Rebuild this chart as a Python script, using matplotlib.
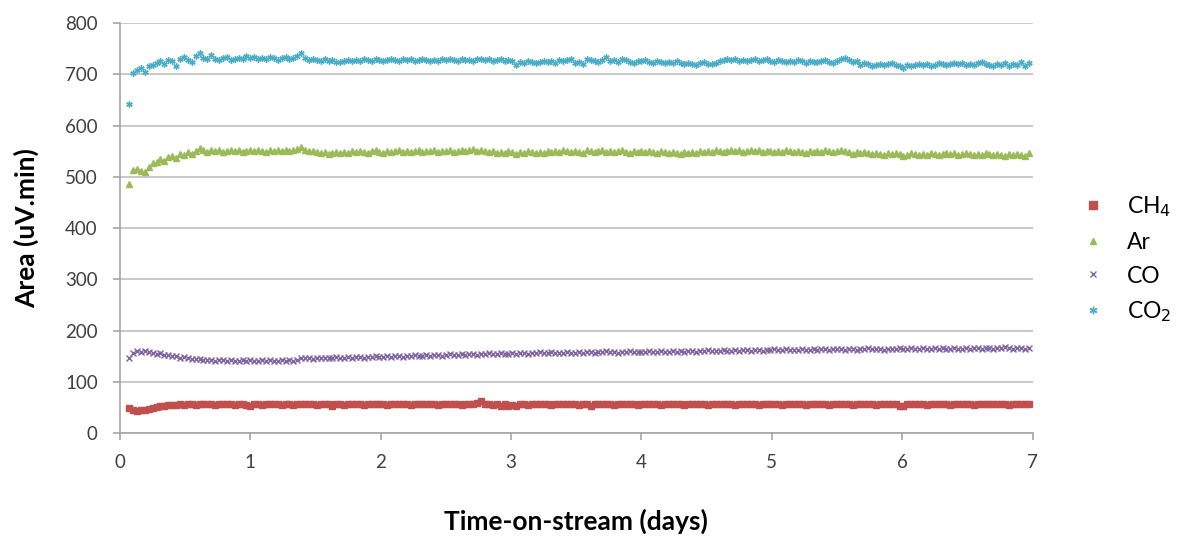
import numpy as np
import matplotlib
matplotlib.use("Agg")
import matplotlib.pyplot as plt

# valores (una muestra cada 0.03 dias desde t = 0.07)
ch4 = [48, 46, 44, 45, 46, 47, 49, 51, 52, 53, 54,
       55, 55, 56, 55, 56, 56, 55, 56, 56, 57,
       56, 55, 56, 56, 57, 56, 55, 56, 56, 55,
       53, 56, 56, 55, 56, 56, 57, 56, 55, 56,
       56, 55, 56, 56, 56, 57, 56, 55, 56, 56,
       56, 53, 56, 56, 55, 56, 57, 56, 56, 55,
       56, 56, 57, 56, 56, 55, 56, 56, 57, 56,
       56, 55, 56, 56, 56, 57, 56, 56, 55, 56,
       56, 57, 56, 56, 55, 56, 56, 57, 58, 62,
       57, 56, 54, 56, 52, 56, 53, 55, 52, 56,
       56, 55, 56, 56, 57, 56, 56, 55, 56, 56,
       56, 57, 56, 56, 55, 56, 56, 53, 56, 56,
       57, 56, 56, 55, 56, 56, 57, 56, 56, 55,
       56, 56, 57, 56, 56, 55, 56, 56, 57, 56,
       56, 55, 56, 56, 57, 56, 56, 55, 56, 56,
       56, 57, 56, 56, 55, 56, 56, 57, 56, 56,
       55, 56, 56, 57, 56, 56, 55, 56, 56, 57,
       56, 56, 55, 56, 56, 57, 56, 56, 55, 56,
       56, 57, 56, 56, 55, 56, 56, 57, 56, 56,
       55, 56, 56, 57, 56, 56, 53, 52, 56, 56,
       57, 56, 56, 55, 56, 56, 57, 56, 56, 55,
       56, 56, 57, 56, 56, 55, 56, 56, 57, 56,
       56, 57, 56, 56, 55, 56, 56, 57, 56, 57]

ar = [487,
      513, 516, 512, 510, 520, 527, 530, 535, 531, 538,
      540, 536, 545, 543, 548, 545, 551, 556, 552, 549,
      553, 550, 552, 548, 551, 553, 550, 552, 549, 551,
      552, 550, 553, 551, 549, 552, 550, 553, 551, 552,
      550, 553, 555, 558, 553, 550, 551, 548, 546, 549,
      545, 547, 548, 546, 549, 547, 550, 548, 551, 549,
      547, 550, 552, 549, 547, 551, 548, 550, 552, 549,
      551, 548, 550, 552, 549, 551, 550, 553, 549, 551,
      550, 552, 549, 551, 553, 550, 552, 554, 551, 553,
      550, 548, 551, 547, 549, 546, 550, 548, 545, 549,
      547, 550, 548, 546, 549, 547, 550, 548, 551, 549,
      552, 550, 548, 551, 549, 547, 552, 550, 548, 551,
      553, 549, 551, 548, 550, 552, 549, 547, 551, 549,
      550, 548, 551, 549, 547, 550, 548, 546, 549, 547,
      545, 548, 546, 549, 547, 550, 548, 551, 549, 552,
      550, 548, 551, 553, 550, 552, 549, 551, 553, 550,
      552, 549, 551, 550, 548, 551, 549, 552, 550, 548,
      551, 549, 547, 550, 548, 551, 549, 552, 550, 548,
      551, 553, 550, 548, 545, 548, 546, 549, 547, 545,
      547, 545, 543, 546, 544, 547, 545, 540, 543, 546,
      544, 542, 545, 543, 546, 544, 542, 545, 547, 544,
      546, 543, 545, 547, 544, 542, 545, 543, 546, 544,
      542, 545, 543, 541, 544, 542, 545, 543, 540, 546]

co = [147,
      157, 161, 159, 160, 158, 157, 155, 156, 153, 152,
      151, 150, 147, 148, 146, 145, 144, 145, 142, 143,
      142, 141, 143, 142, 141, 142, 140, 141, 142, 141,
      142, 141, 140, 142, 141, 142, 140, 141, 142, 141,
      142, 141, 143, 147, 146, 147, 145, 146, 147, 146,
      147, 146, 148, 147, 146, 148, 147, 149, 148, 147,
      149, 148, 150, 149, 148, 150, 149, 151, 150, 149,
      151, 150, 152, 151, 150, 152, 151, 153, 152, 151,
      152, 154, 153, 152, 154, 153, 155, 154, 153, 155,
      154, 156, 155, 154, 156, 155, 154, 156, 155, 157,
      156, 155, 157, 156, 158, 157, 156, 158, 157, 156,
      157, 158, 157, 156, 158, 157, 159, 158, 157, 159,
      158, 160, 159, 158, 157, 159, 158, 160, 159, 158,
      159, 158, 160, 159, 158, 160, 159, 158, 160, 159,
      160, 159, 161, 160, 159, 161, 160, 162, 161, 160,
      161, 162, 161, 160, 162, 161, 163, 162, 161, 163,
      162, 161, 163, 162, 164, 163, 162, 164, 163, 162,
      163, 164, 163, 162, 164, 163, 165, 164, 163, 164,
      165, 164, 163, 165, 164, 163, 165, 164, 166, 165,
      164, 165, 163, 164, 165, 164, 166, 165, 164, 166,
      165, 164, 166, 165, 164, 166, 165, 167, 165, 164,
      166, 165, 164, 166, 165, 167, 166, 165, 167, 166,
      165, 167, 166, 168, 166, 165, 167, 166, 165, 166]

co2 = [643,
       703, 708, 712, 705, 716, 719, 722, 727, 721, 728,
       726, 716, 731, 734, 728, 724, 736, 741, 733, 731,
       737, 730, 728, 733, 735, 729, 731, 733, 730, 736,
       732, 734, 730, 733, 731, 735, 733, 729, 732, 734,
       731, 733, 736, 741, 733, 729, 731, 728, 727, 730,
       726, 728, 725, 724, 727, 729, 726, 728, 727, 731,
       729, 727, 730, 728, 726, 729, 731, 728, 727, 730,
       728, 730, 727, 729, 731, 728, 726, 729, 727, 730,
       728, 731, 729, 727, 730, 728, 729, 727, 730, 731,
       728, 730, 727, 729, 731, 726, 729, 727, 718, 725,
       723, 726, 724, 722, 725, 727, 724, 726, 723, 728,
       726, 729, 730, 723, 725, 721, 731, 728, 727, 725,
       729, 735, 727, 729, 724, 731, 728, 725, 723, 727,
       726, 729, 724, 723, 727, 725, 722, 724, 723, 726,
       722, 720, 723, 721, 719, 722, 724, 721, 720, 723,
       727, 729, 730, 728, 731, 727, 729, 726, 728, 730,
       726, 729, 731, 727, 725, 728, 726, 724, 727, 725,
       728, 726, 723, 727, 725, 724, 726, 728, 725, 723,
       726, 731, 733, 728, 724, 727, 718, 722, 720, 717,
       719, 721, 718, 720, 722, 719, 717, 712, 718, 716,
       719, 721, 718, 720, 717, 719, 722, 720, 718, 721,
       723, 720, 722, 719, 721, 718, 722, 725, 721, 719,
       717, 720, 719, 722, 716, 721, 718, 724, 717, 722]

t0 = 0.07   # primer analisis (dias)
dt = 0.03   # intervalo entre analisis (dias)
t = t0 + dt * np.arange(len(ch4))

plt.rcParams['font.family'] = ['Lato', 'DejaVu Sans']

fig = plt.figure(figsize=(11.8, 5.4), dpi=100)
ax = fig.add_axes([0.1017, 0.198, 0.7733, 0.759])

ax.plot(t, ch4, "s", color="#C0504D", ms=4.5, mec="#C0504D", label="CH$_4$")
ax.plot(t, ar, "^", color="#9BBB59", ms=4, mec="#9BBB59", label="Ar")
ax.plot(t, co, "x", color="#8064A2", ms=4, mew=1.0, label="CO")
ax.plot(t, co2, marker=(6, 2, 0), ls="none", color="#4BACC6", ms=4.5, mew=1.0, label="CO$_2$")

ax.set_xlim(0, 7)
ax.set_ylim(0, 800)
ax.set_xticks(range(0, 8))
ax.set_yticks(range(0, 801, 100))
ax.grid(axis="y", color="#BFBFBF", lw=1.2)
ax.set_axisbelow(True)
for s in ["top", "right"]:
    ax.spines[s].set_visible(False)
for s in ["left", "bottom"]:
    ax.spines[s].set_color("#A6A6A6")
    ax.spines[s].set_linewidth(1.2)
ax.tick_params(axis="both", colors="#A6A6A6", length=5, width=1.2, labelsize=13.5,
               labelcolor="#404040")
ax.tick_params(axis="x", pad=10)
ax.tick_params(axis="y", pad=11)

ax.set_xlabel("Time-on-stream (days)", fontsize=19, fontweight="bold", labelpad=27)
ax.set_ylabel("Area (uV.min)", fontsize=19, fontweight="bold", labelpad=19)

fig.legend(loc="center left", bbox_to_anchor=(0.889, 0.52), frameon=False, fontsize=16.5,
           handletextpad=0.5, labelspacing=0.55, markerscale=1.2)

fig.savefig("out.png", dpi=100)
